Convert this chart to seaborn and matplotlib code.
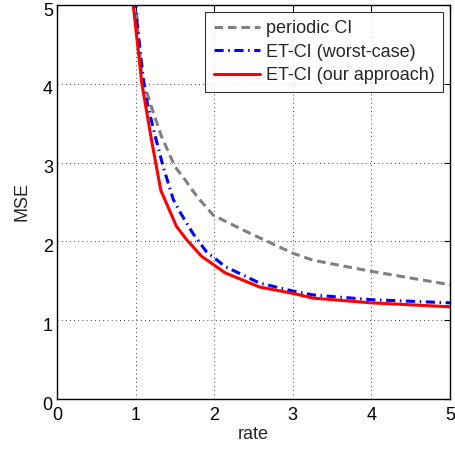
import numpy as np
import pandas as pd
import matplotlib
matplotlib.use("Agg")
import matplotlib.pyplot as plt
import matplotlib.transforms as mtransforms
import seaborn as sns

# values
rate_periodic = [1.0, 1.03, 1.08, 1.20, 1.33, 1.50, 1.63, 1.78, 1.99, 2.46, 3.0, 3.26, 4.0, 5.0]
mse_periodic = [5.1, 4.65, 4.09, 3.71, 3.33, 2.95, 2.78, 2.57, 2.33, 2.1, 1.85, 1.76, 1.62, 1.45]

rate_worst = [0.99, 1.0, 1.08, 1.12, 1.23, 1.35, 1.48, 1.56, 1.73, 1.9, 2.14, 2.58, 3.0, 3.26, 4.0, 5.0]
mse_worst = [5.2, 4.95, 4.22, 3.88, 3.41, 2.95, 2.53, 2.38, 2.1, 1.87, 1.68, 1.47, 1.37, 1.32, 1.26, 1.22]

rate_ours = [0.95, 0.97, 1.08, 1.20, 1.32, 1.52, 1.65, 1.84, 2.14, 2.58, 3.0, 3.26, 4.0, 5.0]
mse_ours = [5.3, 5.0, 4.0, 3.3, 2.65, 2.19, 2.02, 1.81, 1.60, 1.42, 1.34, 1.28, 1.22, 1.17]

labels = ['periodic CI', 'ET-CI (worst-case)', 'ET-CI (our approach)']

sns.set_style('white')
plt.rcParams['font.family'] = ['Liberation Sans', 'DejaVu Sans']

fig = plt.figure(figsize=(4.55, 4.49), dpi=100)
ax = fig.add_axes([0.1253, 0.1114, 0.8637, 0.8775])

sns.lineplot(x=rate_periodic, y=mse_periodic, ax=ax, color='#808080', lw=2.2,
             linestyle=(0, (2.8, 1.6)), label=labels[0], sort=False, estimator=None)
sns.lineplot(x=rate_worst, y=mse_worst, ax=ax, color='#0000ff', lw=2.2,
             linestyle=(0, (3, 1.5, 0.5, 1.5)), label=labels[1], sort=False, estimator=None)
sns.lineplot(x=rate_ours, y=mse_ours, ax=ax, color='#ff0000', lw=2.2,
             linestyle='-', label=labels[2], sort=False, estimator=None)

ax.set_xlim(0, 5)
ax.set_ylim(0, 5)
ax.set_xticks(range(6))
ax.set_yticks(range(6))
ax.grid(True, color='black', linestyle=(0, (1, 4)), linewidth=0.6)
ax.tick_params(direction='in', top=True, right=True, length=4, width=0.8,
               labelsize=13, colors='black')
ax.tick_params(axis='x', pad=6)
ax.tick_params(axis='y', pad=3)
# nudge y tick labels down a little, like the original export
shift = mtransforms.ScaledTranslation(0, -3 / 72, fig.dpi_scale_trans)
for t in ax.get_yticklabels():
    t.set_transform(t.get_transform() + shift)
for s in ax.spines.values():
    s.set_color('black')
    s.set_linewidth(1.0)
ax.set_xlabel('rate', fontsize=13, labelpad=1)
ax.set_ylabel('MSE', fontsize=13, labelpad=9)

leg = ax.legend(loc='upper right', fontsize=13, frameon=True, fancybox=False,
                handlelength=2.6, borderpad=0.45, labelspacing=0.35,
                handletextpad=0.3, borderaxespad=0.4)
leg.get_frame().set_edgecolor('black')
leg.get_frame().set_linewidth(0.8)

fig.savefig('out.png', dpi=100)
